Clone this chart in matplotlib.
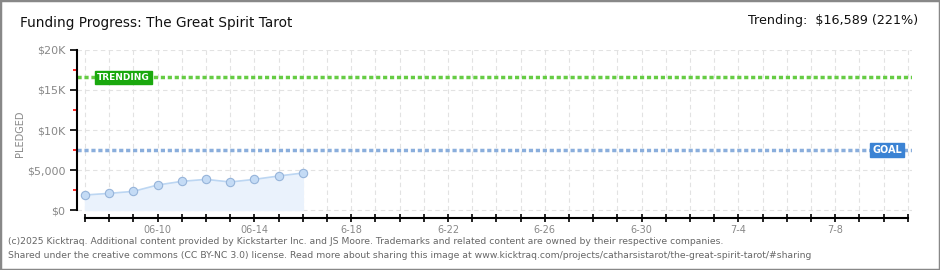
import matplotlib.pyplot as plt
from matplotlib.patches import Rectangle

# data
days = [0, 1, 2, 3, 4, 5, 6, 7, 8, 9]  # days since 06-07
pledged = [1875, 2080, 2330, 3125, 3580, 3830, 3500, 3830, 4250, 4625]
goal = 7500
trending = 16589
n_days = 35
tick_days = [3, 7, 11, 15, 19, 23, 27, 31]
tick_labels = ['06-10', '06-14', '6-18', '6-22', '6-26', '6-30', '7-4', '7-8']
ytick_vals = [0, 5000, 10000, 15000, 20000]
ytick_labels = ['$0', '$5,000', '$10K', '$15K', '$20K']

fig = plt.figure(figsize=(9.4, 2.7), dpi=100)
fig.patches.append(Rectangle((0, 0), 1, 1, transform=fig.transFigure,
                             fill=False, edgecolor='#888888', lw=2.5))
ax = fig.add_axes([77/940, 52/270, 835/940, 168/270])

ax.set_xlim(-0.33, 34.17)
ax.set_ylim(-1000, 20000)

# grid
for d in range(n_days):
    ax.axvline(d, color='#e2e2e2', lw=0.8, ls=(0, (4, 3)), zorder=0,
               ymin=1000/21000, ymax=1)
for v in range(0, 20001, 5000):
    ax.axhline(v, color='#e2e2e2', lw=0.8, ls=(0, (4, 3)), zorder=0)

ax.fill_between(days, pledged, 0, color='#eaf2fc', zorder=1)
ax.plot(days, pledged, color='#bcd6f2', lw=1.2, zorder=2)
ax.plot(days, pledged, 'o', ms=6, mfc='#c4dbf5', mec='#96b4da', mew=0.8, zorder=3)

ax.axhline(trending, color='#66cc44', lw=2.5, ls=(0, (1.2, 0.8)), zorder=2)
ax.axhline(goal, color='#8aaedc', lw=2.5, ls=(0, (1.2, 0.8)), zorder=2)

ax.text(0.5, trending, 'TRENDING', color='white', fontsize=6.5, va='center', ha='left',
        fontweight='bold', zorder=5,
        bbox=dict(boxstyle='square,pad=0.25', fc='#1aa80e', ec='#1aa80e'))
ax.text(33.75, goal, 'GOAL', color='white', fontsize=7, va='center', ha='right',
        fontweight='bold', zorder=5,
        bbox=dict(boxstyle='square,pad=0.25', fc='#3b83d4', ec='#3b83d4'))

# axes styling
for s in ['top', 'right']:
    ax.spines[s].set_visible(False)
ax.spines['left'].set_bounds(0, 20000)
ax.spines['bottom'].set_bounds(0, 34)
ax.spines['left'].set_linewidth(1.5)
ax.spines['bottom'].set_linewidth(1.5)

ax.set_yticks(ytick_vals)
ax.set_yticklabels(ytick_labels)
ax.set_yticks([2500, 7500, 12500, 17500], minor=True)
ax.tick_params(axis='y', which='major', length=5, width=1.2, colors='black',
               labelcolor='#888888', labelsize=8)
ax.tick_params(axis='y', which='minor', length=3, width=1.2, colors='red')

ax.set_xticks(range(n_days), minor=True)
ax.set_xticks(tick_days)
ax.set_xticklabels(tick_labels)
ax.tick_params(axis='x', which='both', direction='inout', length=6, width=1.2,
               colors='black', labelcolor='#888888', labelsize=7, pad=2)

ax.set_ylabel('PLEDGED', color='#888888', fontsize=7)
ax.yaxis.set_label_coords(-0.062, 0.5)

fig.text(20/940, 1 - 23/270, 'Funding Progress: The Great Spirit Tarot',
         fontsize=9.8, color='#111111', va='center', ha='left')
fig.text(918/940, 1 - 21/270, 'Trending:  $16,589 (221%)',
         fontsize=9.2, color='#111111', va='center', ha='right')

fig.text(8/940, 1 - 242/270,
         '(c)2025 Kicktraq. Additional content provided by Kickstarter Inc. and JS Moore. '
         'Trademarks and related content are owned by their respective companies.',
         fontsize=6.7, color='#666666', va='center', ha='left')
fig.text(8/940, 1 - 255/270,
         'Shared under the creative commons (CC BY-NC 3.0) license. Read more about sharing this image at '
         'www.kicktraq.com/projects/catharsistarot/the-great-spirit-tarot/#sharing',
         fontsize=6.7, color='#666666', va='center', ha='left')

fig.savefig('out.png', dpi=100)
